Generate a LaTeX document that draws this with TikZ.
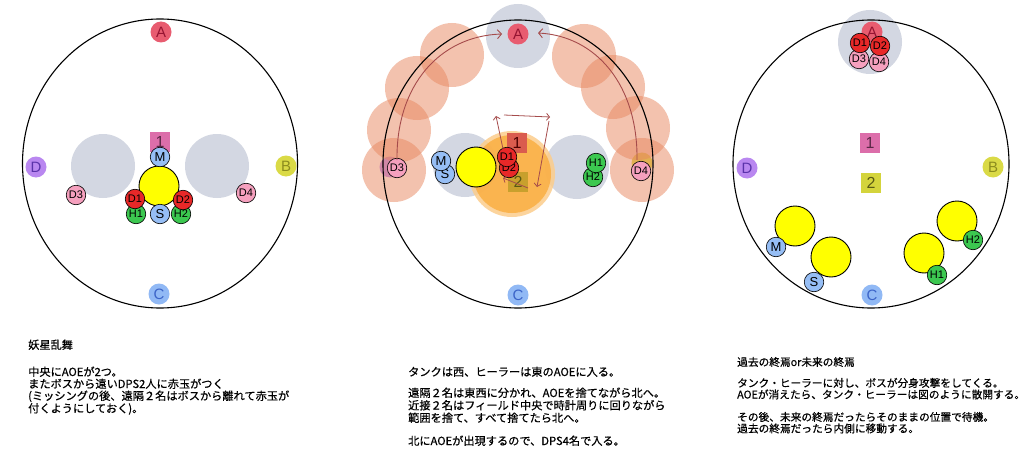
\documentclass[tikz,border=0pt]{standalone}
\usepackage{fontspec}
\setsansfont{Liberation Sans}
\newfontfamily\jp{Noto Sans CJK JP}[FakeBold=0.5]
\usetikzlibrary{arrows.meta}
\definecolor{mkA}{RGB}{232,92,112}
\definecolor{mkAt}{RGB}{150,20,50}
\definecolor{mkB}{RGB}{218,218,70}
\definecolor{mkBt}{RGB}{140,140,30}
\definecolor{mkC}{RGB}{145,185,245}
\definecolor{mkCt}{RGB}{60,100,200}
\definecolor{mkD}{RGB}{185,135,240}
\definecolor{mkDt}{RGB}{90,50,170}
\definecolor{sqone}{RGB}{220,110,170}
\definecolor{sqonet}{RGB}{90,40,70}
\definecolor{sqtwo}{RGB}{212,212,60}
\definecolor{sqtwot}{RGB}{90,90,20}
\definecolor{sqonem}{RGB}{218,92,78}
\definecolor{sqtwom}{RGB}{200,160,45}
\definecolor{greyc}{RGB}{211,215,226}
\definecolor{tankc}{RGB}{150,190,245}
\definecolor{mdpsc}{RGB}{232,40,40}
\definecolor{rdpsc}{RGB}{245,160,190}
\definecolor{healc}{RGB}{60,200,80}
\definecolor{bossc}{RGB}{255,255,0}
\definecolor{salmonc}{RGB}{232,135,95}
\definecolor{aoecore}{RGB}{250,172,60}
\definecolor{aoehalo}{RGB}{252,205,140}
\definecolor{arrc}{RGB}{165,75,75}
\tikzset{
  arena/.style={draw=black, line width=1.1pt},
  marker/.style={circle, minimum size=21pt, inner sep=0pt, font=\sffamily\fontsize{15}{15}\selectfont},
  mA/.style={marker, fill=mkA, text=mkAt},
  mB/.style={marker, fill=mkB, text=mkBt},
  mC/.style={marker, fill=mkC, text=mkCt},
  mD/.style={marker, fill=mkD, text=mkDt},
  player/.style={circle, draw=black, line width=0.6pt, minimum size=19.5pt, inner sep=0pt, font=\sffamily\fontsize{11}{11}\selectfont},
  tankp/.style={player, fill=tankc, font=\sffamily\fontsize{13}{13}\selectfont},
  mdpsp/.style={player, fill=mdpsc},
  rdpsp/.style={player, fill=rdpsc},
  healp/.style={player, fill=healc},
  sqbox/.style={minimum size=20pt, inner sep=0pt, font=\sffamily\fontsize{16}{16}\selectfont},
  sqa/.style={sqbox, fill=sqone, text=sqonet},
  sqb/.style={sqbox, fill=sqtwo, text=sqtwot},
  greyzone/.style={circle, fill=greyc, minimum size=64pt, inner sep=0pt},
  bossp/.style={circle, fill=bossc, draw=black, line width=0.9pt, minimum size=40pt, inner sep=0pt},
  puddle/.style={circle, fill=salmonc, fill opacity=0.5, minimum size=64pt, inner sep=0pt},
  arcarrow/.style={draw=arrc, line width=0.9pt, -{Straight Barb[length=4pt,width=9pt]}},
  smallarrow/.style={draw=arrc, line width=0.8pt, -{Straight Barb[length=3pt,width=7pt]}},
  jptext/.style={anchor=base west, inner sep=0pt, font=\jp\fontsize{10.7}{12}\selectfont},
  jpwide/.style={jptext, font=\jp\fontsize{11.2}{12}\selectfont}
}
\begin{document}
\begin{tikzpicture}[x=1pt,y=-1pt]
\useasboundingbox[fill=white] (0,0) rectangle (1024,468);

% ================= LEFT PANEL =================
\node[greyzone] (lg1) at (103,166) {};
\node[greyzone] (lg2) at (217,166) {};
\draw[arena] (160,163.5) ellipse [x radius=137.5pt, y radius=144.5pt];
\node[mA] (lA) at (161,32) {A};
\node[mB] (lB) at (286,166) {B};
\node[mC] (lC) at (159,294) {C};
\node[mD] (lD) at (36,167) {D};
\node[sqa] (l1) at (160,142) {1};
\node[bossp] (lboss) at (159,186) {};
\node[healp] (lH1) at (136,214) {H1};
\node[tankp] (lS) at (160,214) {S};
\node[healp] (lH2) at (181,214) {H2};
\node[mdpsp] (lD1) at (135,199) {D1};
\node[mdpsp] (lD2) at (183,200) {D2};
\node[tankp] (lM) at (160,157) {M};
\node[rdpsp] (lD3) at (76,195) {D3};
\node[rdpsp] (lD4) at (246,193) {D4};

% ================= MIDDLE PANEL =================
\node[greyzone] (mgA) at (518,36) {};
\node[greyzone] (mgL) at (465,165) {};
\node[greyzone] (mgR) at (577,167) {};
\node[mA] (mA) at (518,34) {A};
\node[mC] (mC) at (518,295) {C};
\node[mD] (mD) at (390,167) {};
\node[mB] (mB) at (642,163) {};
\node[puddle] (pl1) at (394,170) {};
\node[puddle] (pl2) at (399,130) {};
\node[puddle] (pl3) at (417,88) {};
\node[puddle] (pl4) at (452,55) {};
\node[puddle] (pr1) at (642,170) {};
\node[puddle] (pr2) at (638,128) {};
\node[puddle] (pr3) at (613,87) {};
\node[puddle] (pr4) at (584,56) {};
\draw[arena] (518,164) ellipse [x radius=135pt, y radius=144pt];
\node[circle, fill=aoehalo, fill opacity=0.85, minimum size=86pt, inner sep=0pt] (mhalo) at (512,174) {};
\node[circle, fill=aoecore, fill opacity=0.8, minimum size=78pt, inner sep=0pt] (maoe) at (512,174) {};
\node[sqbox, fill=sqonem, text=black!70!red] (m1) at (517,143) {1};
\node[sqbox, fill=sqtwom, text=sqtwot] (m2) at (518,182) {2};
\node[bossp] (mboss) at (476,167) {};
\node[tankp] (mS) at (445,174) {S};
\node[tankp] (mM) at (441,161) {M};
\node[mdpsp] (mD2) at (509,168) {D2};
\node[mdpsp] (mD1) at (507,157) {D1};
\node[healp] (mH2) at (593,177) {H2};
\node[healp] (mH1) at (596,163) {H1};
\node[rdpsp] (mD3) at (397,168) {D3};
\node[rdpsp] (mD4) at (641,171) {D4};
% arcs to A
\coordinate (aL0) at (397,160);
\coordinate (aL1) at (502,34);
\coordinate (aR0) at (637,160);
\coordinate (aR1) at (538,33);
\draw[arcarrow] (aL0) .. controls (396,85) and (440,36) .. (aL1);
\draw[arcarrow] (aR0) .. controls (638,85) and (596,36) .. (aR1);
% small clockwise arrows
\coordinate (cu0) at (503,149);
\coordinate (cu1) at (496,116);
\coordinate (cr0) at (504,115);
\coordinate (cr1) at (550,117);
\coordinate (cd0) at (549,121);
\coordinate (cd1) at (537,187);
\coordinate (cl0) at (528,188);
\coordinate (cl1) at (503,178);
\draw[smallarrow] (cu0) -- (cu1);
\draw[smallarrow] (cr0) -- (cr1);
\draw[smallarrow] (cd0) -- (cd1);
\draw[smallarrow] (cl0) -- (cl1);

% ================= RIGHT PANEL =================
\node[greyzone] (rgA) at (870,42) {};
\draw[arena] (871,164) ellipse [x radius=138pt, y radius=144pt];
\node[mA] (rA) at (872,32) {A};
\node[mD] (rD) at (747,168) {D};
\node[mB] (rB) at (993,167) {B};
\node[mC] (rC) at (872,295) {C};
\node[sqa] (r1) at (870,143) {1};
\node[sqb] (r2) at (871,183) {2};
\node[rdpsp] (rD3) at (859,59) {D3};
\node[rdpsp] (rD4) at (879,62) {D4};
\node[mdpsp] (rD1) at (860,43) {D1};
\node[mdpsp] (rD2) at (880,46) {D2};
\node[bossp] (ry1) at (795,226) {};
\node[bossp] (ry2) at (831,257) {};
\node[bossp] (ry3) at (924,253) {};
\node[bossp] (ry4) at (957,221) {};
\node[tankp] (rM) at (776,247) {M};
\node[tankp] (rS) at (814,282) {S};
\node[healp] (rH1) at (937,275) {H1};
\node[healp] (rH2) at (973,240) {H2};

% ================= TEXTS =================
\node[jpwide] (tl1) at (28,349) {妖星乱舞};
\node[jpwide] (tl2) at (28,376) {中央にAOEが2つ。};
\node[jpwide] (tl3) at (28,388) {またボスから遠いDPS2人に赤玉がつく};
\node[jpwide] (tl4) at (28,400) {(ミッシングの後、遠隔２名はボスから離れて赤玉が};
\node[jpwide] (tl5) at (28,412.5) {付くようにしておく)。};

\node[jpwide] (tm1) at (408,376) {タンクは西、ヒーラーは東のAOEに入る。};
\node[jpwide] (tm2) at (408,397) {遠隔２名は東西に分かれ、AOEを捨てながら北へ。};
\node[jpwide] (tm3) at (408,409.5) {近接２名はフィールド中央で時計周りに回りながら};
\node[jpwide] (tm4) at (408,422) {範囲を捨て、すべて捨てたら北へ。};
\node[jpwide] (tm5) at (408,445) {北にAOEが出現するので、DPS4名で入る。};

\node[jptext] (tr1) at (737,366) {過去の終焉or未来の終焉};
\node[jptext] (tr2) at (737,387) {タンク・ヒーラーに対し、ボスが分身攻撃をしてくる。};
\node[jptext] (tr3) at (737,398.5) {AOEが消えたら、タンク・ヒーラーは図のように散開する。};
\node[jptext] (tr4) at (737,421) {その後、未来の終焉だったらそのままの位置で待機。};
\node[jptext] (tr5) at (737,432.5) {過去の終焉だったら内側に移動する。};
\end{tikzpicture}
\end{document}
